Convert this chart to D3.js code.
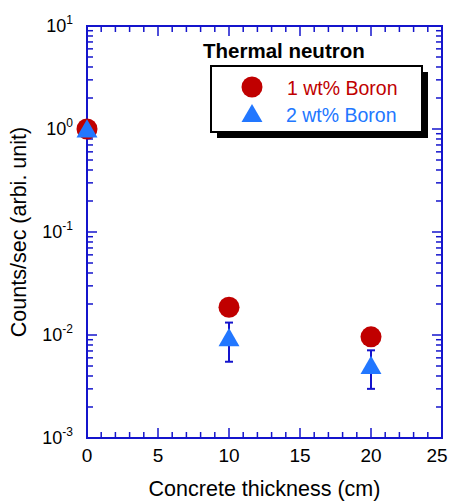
<!DOCTYPE html>
<html>
<head>
<meta charset="utf-8">
<script src="https://cdn.jsdelivr.net/npm/d3@7"></script>
<style>
  body { margin: 0; background: #fff; }
  text { font-family: "Liberation Sans", Arial, sans-serif; }
</style>
</head>
<body>
<div id="chart"></div>
<script>
// --- Data ---
const thickness = [0, 10, 20];
const boron1 = [1.0, 0.0186, 0.0096];
const boron2 = [0.97, 0.0091, 0.0049];
const boron2Low = [0.97, 0.0055, 0.0030];
const boron2High = [0.97, 0.0132, 0.0071];
const xTicks = [0, 5, 10, 15, 20, 25];
const yExponents = [1, 0, -1, -2, -3];
const seriesNames = ["1 wt% Boron", "2 wt% Boron"];

const W = 450, H = 501;
const margin = { top: 26, right: 8, bottom: 63, left: 87 };
const axisColor = "#1414cc";
const red = "#c00000";
const blue = "#2277ff";

const svg = d3.select("#chart").append("svg")
    .attr("width", W)
    .attr("height", H);

const x = d3.scaleLinear().domain([0, 25]).range([margin.left, W - margin.right]);
const y = d3.scaleLog().domain([1e-3, 10]).range([H - margin.bottom, margin.top]);

const x0 = x.range()[0], x1 = x.range()[1];
const y0 = y.range()[0], y1 = y.range()[1];

// minor and major ticks (inward, all four sides)
const ticks = svg.append("g").attr("stroke", axisColor).attr("stroke-width", 1.5);
d3.range(0, 26, 1).forEach(v => {
    const len = v % 5 === 0 ? 10 : 6;
    ticks.append("line").attr("x1", x(v)).attr("x2", x(v)).attr("y1", y0).attr("y2", y0 - len);
    ticks.append("line").attr("x1", x(v)).attr("x2", x(v)).attr("y1", y1).attr("y2", y1 + len);
});
for (let e = -3; e < 1; e++) {
    for (let m = 1; m < 10; m++) {
        const v = m * Math.pow(10, e);
        const len = m === 1 ? 10 : 6;
        ticks.append("line").attr("x1", x0).attr("x2", x0 + len).attr("y1", y(v)).attr("y2", y(v));
        ticks.append("line").attr("x1", x1).attr("x2", x1 - len).attr("y1", y(v)).attr("y2", y(v));
    }
}

// frame
svg.append("rect")
    .attr("x", x0).attr("y", y1)
    .attr("width", x1 - x0).attr("height", y0 - y1)
    .attr("fill", "none")
    .attr("stroke", axisColor)
    .attr("stroke-width", 2);

// tick labels (last one kept inside the window)
svg.selectAll("text.xt").data(xTicks).enter().append("text")
    .attr("class", "xt")
    .attr("x", d => Math.min(x(d), W - 13))
    .attr("y", y0 + 24)
    .attr("text-anchor", "middle")
    .attr("font-size", 19)
    .text(d => d);

const yl = svg.selectAll("text.yt").data(yExponents).enter().append("text")
    .attr("class", "yt")
    .attr("x", x0 - 14)
    .attr("y", d => y(Math.pow(10, d)) + 6)
    .attr("text-anchor", "end")
    .attr("font-size", 18);
yl.append("tspan").text("10");
yl.append("tspan").attr("dy", -8).attr("font-size", 12).text(d => d);

// axis titles
svg.append("text")
    .attr("x", (x0 + x1) / 2)
    .attr("y", 496)
    .attr("text-anchor", "middle")
    .attr("font-size", 21.5)
    .text("Concrete thickness (cm)");

svg.append("text")
    .attr("transform", `translate(26, ${(y0 + y1) / 2}) rotate(-90)`)
    .attr("text-anchor", "middle")
    .attr("font-size", 21.5)
    .text("Counts/sec (arbi. unit)");

// error bars for 2 wt%
const eb = svg.append("g").attr("stroke", axisColor).attr("stroke-width", 2);
thickness.forEach((t, i) => {
    if (boron2Low[i] === boron2High[i]) return;
    const cx = x(t);
    eb.append("line").attr("x1", cx).attr("x2", cx).attr("y1", y(boron2Low[i])).attr("y2", y(boron2High[i]));
    eb.append("line").attr("x1", cx - 4).attr("x2", cx + 4).attr("y1", y(boron2Low[i])).attr("y2", y(boron2Low[i]));
    eb.append("line").attr("x1", cx - 4).attr("x2", cx + 4).attr("y1", y(boron2High[i])).attr("y2", y(boron2High[i]));
});

// points
const tri = d3.symbol().type(d3.symbolTriangle).size(190);
svg.selectAll("circle.b1").data(thickness).enter().append("circle")
    .attr("class", "b1")
    .attr("cx", d => x(d))
    .attr("cy", (d, i) => y(boron1[i]))
    .attr("r", 10.5)
    .attr("fill", red);

svg.selectAll("path.b2").data(thickness).enter().append("path")
    .attr("class", "b2")
    .attr("d", tri)
    .attr("transform", (d, i) => `translate(${x(d)},${y(boron2[i]) + 1})`)
    .attr("fill", blue);

// legend
svg.append("text")
    .attr("x", 203)
    .attr("y", 58)
    .attr("font-size", 20.5)
    .attr("font-weight", "bold")
    .text("Thermal neutron");

svg.append("rect")
    .attr("x", 217).attr("y", 72)
    .attr("width", 211).attr("height", 66)
    .attr("fill", "#000");
svg.append("rect")
    .attr("x", 211).attr("y", 66)
    .attr("width", 211).attr("height", 66)
    .attr("fill", "#fff")
    .attr("stroke", "#000")
    .attr("stroke-width", 2);

svg.append("circle").attr("cx", 252).attr("cy", 87).attr("r", 10.5).attr("fill", red);
svg.append("path").attr("d", tri).attr("transform", "translate(252,116)").attr("fill", blue);

svg.append("text").attr("x", 287).attr("y", 95).attr("font-size", 19.5).attr("fill", red).text(seriesNames[0]);
svg.append("text").attr("x", 286).attr("y", 122).attr("font-size", 19.5).attr("fill", blue).text(seriesNames[1]);
</script>
</body>
</html>
